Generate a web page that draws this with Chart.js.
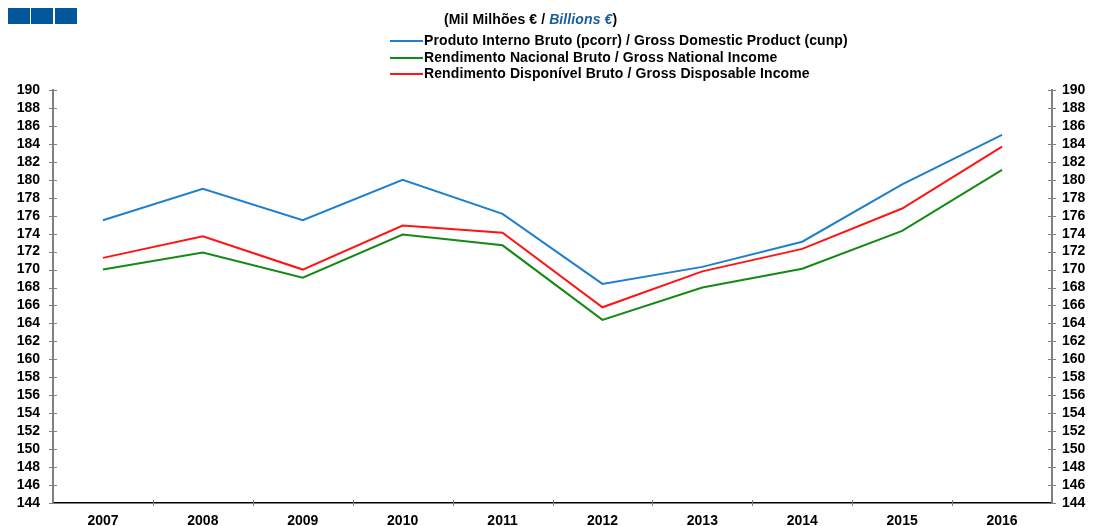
<!DOCTYPE html>
<html>
<head>
<meta charset="utf-8">
<script src="https://cdn.jsdelivr.net/npm/chart.js@4.4.1/dist/chart.umd.min.js"></script>
<style>
  body { margin: 0; background: #fff; font-family: "Liberation Sans", Arial, sans-serif; }
  #wrap { position: relative; width: 1098px; height: 526px; }
  canvas { position: absolute; left: 0; top: 0; }
  .logo { position: absolute; top: 8px; height: 16px; width: 22px; background: #00579c; }
  .title { position: absolute; left: 444px; top: 11px; font-size: 14px; font-weight: bold; white-space: nowrap; letter-spacing: 0.1px; }
  .title i { color: #1a5c9c; }
  .legend { position: absolute; left: 390px; font-size: 14px; font-weight: bold; white-space: nowrap; line-height: 16px; letter-spacing: 0.1px; }
  .legend span { display: inline-block; width: 33px; height: 2px; vertical-align: middle; margin-right: 1px; }
</style>
</head>
<body>
<div id="wrap">
  <canvas id="incomeChart" width="1098" height="526"></canvas>
  <div class="logo" style="left:8px"></div>
  <div class="logo" style="left:31px"></div>
  <div class="logo" style="left:55px"></div>
  <div class="title">(Mil Milhões € / <i>Billions €</i>)</div>
  <div id="legend"></div>
</div>
<script>
const years = ["2007", "2008", "2009", "2010", "2011", "2012", "2013", "2014", "2015", "2016"];
const gdpValues = [175.5, 179.0, 175.5, 180.0, 176.2, 168.4, 170.3, 173.1, 179.5, 185.0];
const gniValues = [170.0, 171.9, 169.1, 173.9, 172.7, 164.4, 168.0, 170.1, 174.3, 181.1];
const gdiValues = [171.3, 173.7, 170.0, 174.9, 174.1, 165.8, 169.8, 172.3, 176.8, 183.7];
const seriesLabels = [
  "Produto Interno Bruto (pcorr) / Gross Domestic Product (cunp)",
  "Rendimento Nacional Bruto / Gross National Income",
  "Rendimento Disponível Bruto / Gross Disposable Income"
];
const seriesColors = ["#1f7fcf", "#138a13", "#ff1414"];
const yMin = 144, yMax = 190, yStep = 2;

// legend as plain html
const legendBox = document.getElementById("legend");
seriesLabels.forEach((label, i) => {
  const row = document.createElement("div");
  row.className = "legend";
  row.style.top = (32 + i * 16.5) + "px";
  row.innerHTML = `<span style="background:${seriesColors[i]}"></span>${label}`;
  legendBox.appendChild(row);
});

// tick marks crossing the axes (Chart.js only draws them outward)
const crossTicks = {
  id: "crossTicks",
  afterDraw(chart) {
    const ctx = chart.ctx;
    const area = chart.chartArea;
    ctx.save();
    ctx.strokeStyle = "#808080";
    ctx.lineWidth = 1;
    ["y", "y2"].forEach((id) => {
      const scale = chart.scales[id];
      const x = id === "y" ? area.left : area.right;
      scale.ticks.forEach((t, i) => {
        const py = Math.round(scale.getPixelForTick(i)) + 0.5;
        ctx.beginPath();
        ctx.moveTo(x - 4, py);
        ctx.lineTo(x + 4, py);
        ctx.stroke();
      });
    });
    const xs = chart.scales.x;
    for (let i = 1; i < years.length; i++) {
      const px = Math.round((xs.getPixelForTick(i - 1) + xs.getPixelForTick(i)) / 2) + 0.5;
      ctx.beginPath();
      ctx.moveTo(px, area.bottom - 3);
      ctx.lineTo(px, area.bottom + 3);
      ctx.stroke();
    }
    ctx.restore();
  }
};

const tickFont = { family: "Liberation Sans", size: 14, weight: "bold" };

new Chart(document.getElementById("incomeChart"), {
  type: "line",
  data: {
    labels: years,
    datasets: [gdpValues, gniValues, gdiValues].map((vals, i) => ({
      label: seriesLabels[i],
      data: vals,
      borderColor: seriesColors[i],
      borderWidth: 2,
      pointRadius: 0,
      tension: 0,
      fill: false,
      yAxisID: "y"
    }))
  },
  options: {
    responsive: false,
    animation: false,
    layout: { padding: { top: 90, left: 0, right: 0, bottom: 0 } },
    plugins: { legend: { display: false }, tooltip: { enabled: false } },
    scales: {
      x: {
        offset: true,
        grid: { display: false, drawTicks: false },
        border: { display: true, color: "#000", width: 1.5 },
        ticks: { color: "#000", font: tickFont, padding: 10, maxRotation: 0, autoSkip: false },
        afterFit(s) { s.height = 23; }
      },
      y: {
        position: "left",
        min: yMin, max: yMax,
        grid: { drawOnChartArea: false, drawTicks: false },
        border: { color: "#808080", width: 2 },
        ticks: { stepSize: yStep, color: "#000", font: tickFont, padding: 13, autoSkip: false },
        afterFit(s) { s.width = 53; }
      },
      y2: {
        position: "right",
        min: yMin, max: yMax,
        grid: { drawOnChartArea: false, drawTicks: false },
        border: { color: "#808080", width: 2 },
        ticks: { stepSize: yStep, color: "#000", font: tickFont, padding: 10, autoSkip: false },
        afterFit(s) { s.width = 46; }
      }
    }
  },
  plugins: [crossTicks]
});
</script>
</body>
</html>
